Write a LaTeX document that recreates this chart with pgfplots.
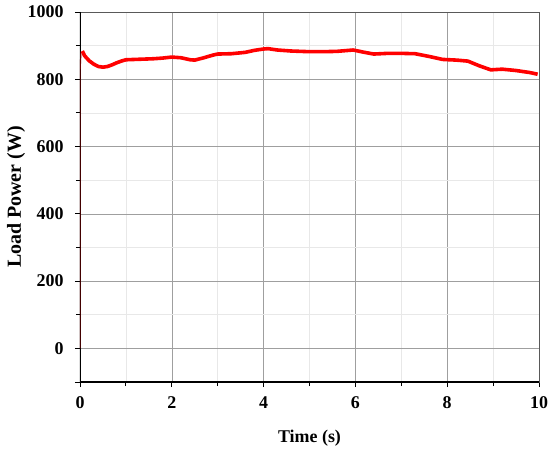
\documentclass[border=0pt]{standalone}
\usepackage{pgfplots}
\pgfplotsset{compat=1.18}
\usepackage{fontspec}
\setmainfont{Liberation Serif}
\begin{document}
\begin{tikzpicture}
\begin{axis}[
  scale only axis, width=459bp, height=370bp,
  at={(0,0)}, anchor=south west,
  xmin=0, xmax=10, ymin=-100, ymax=1000,
  xtick={0,2,...,10}, ytick={0,200,...,1000},
  minor x tick num=1, minor y tick num=1,
  extra y ticks={-100}, extra y tick labels={},
  extra y tick style={grid=none},
  grid=both,
  major grid style={gray!75, line width=0.6bp},
  minor grid style={gray!18, line width=0.5bp},
  tick align=outside, tick pos=left,
  major tick length=5bp, minor tick length=4bp,
  every tick/.style={black, line width=0.9bp},
  axis line style={gray!70!black, line width=0.8bp},
  /pgf/number format/assume math mode=true,
  /pgf/number format/1000 sep={},
  tick label style={font=\fontsize{18}{20}\selectfont\bfseries},
  yticklabel style={xshift=-8bp},
  xticklabel style={yshift=-6bp},
  xlabel={Time (s)}, ylabel={Load Power (W)},
  xlabel style={font=\fontsize{18}{20}\selectfont\bfseries, at={(axis description cs:0.5,-0.151)}, anchor=center},
  ylabel style={font=\fontsize{20}{22}\selectfont\bfseries, at={(axis description cs:-0.139,0.5)}, anchor=center},
]
\draw[black, line width=1.3bp] (axis description cs:0,1) -- (axis description cs:0,0) -- (axis description cs:1,0);
\addplot[red!40!black, line width=1.2bp] coordinates {(0,0) (0,820) (0.02,880)};
\addplot[red, line width=3.6bp, line join=round] coordinates {
(0.05,884)(0.1,870)(0.2,855)(0.3,845)(0.4,838)(0.5,836)(0.6,838)(0.7,843)(0.8,849)(0.9,854)
(1.0,858)(1.2,859)(1.4,860)(1.6,861)(1.8,863)(2.0,866)(2.2,864)(2.4,858)(2.5,857)(2.7,864)
(2.9,872)(3.0,875)(3.3,876)(3.6,880)(3.8,886)(4.0,890)(4.1,891)(4.3,887)(4.6,884)(5.0,882)
(5.3,882)(5.6,883)(5.95,887)(6.2,880)(6.4,875)(6.7,877)(7.0,877)(7.3,876)(7.6,868)(7.9,859)
(8.2,857)(8.45,854)(8.7,840)(8.95,828)(9.2,830)(9.5,826)(9.8,820)(9.97,815)};
\end{axis}
\pgfresetboundingbox
\path[use as bounding box] (-80bp,-71bp) rectangle (470bp,382bp);
\end{tikzpicture}
\end{document}
